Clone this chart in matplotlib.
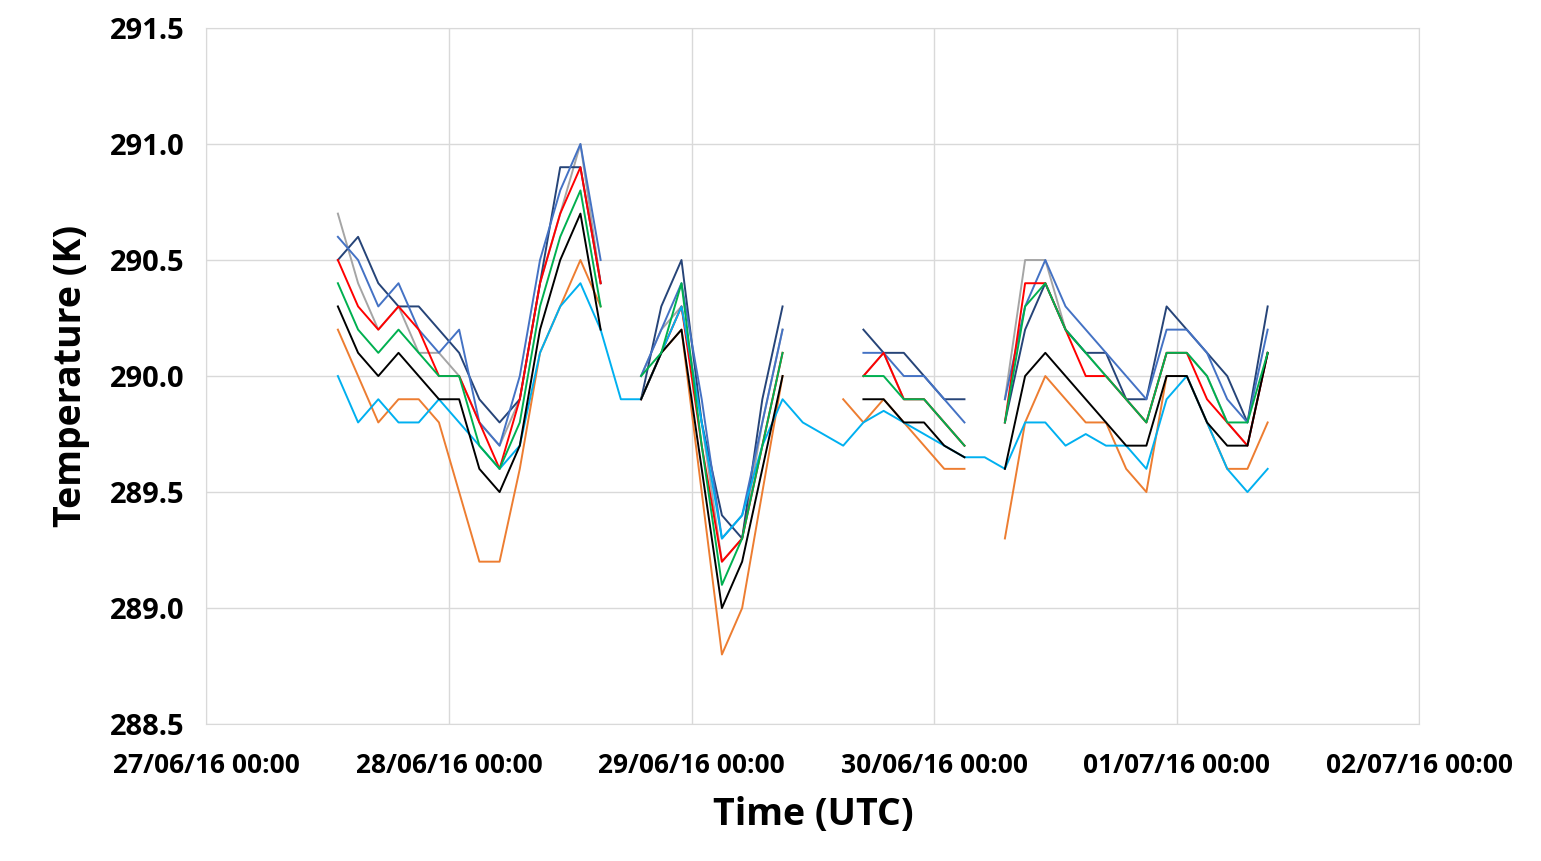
import numpy as np
import matplotlib
matplotlib.use("Agg")
import matplotlib.pyplot as plt
import matplotlib.dates as mdates
from datetime import datetime, timedelta

nan = np.nan
start = datetime(2016, 6, 27)
hours = list(range(13, 106, 2))   # hours since 27/06/16 00:00
times = [start + timedelta(hours=h) for h in hours]

blue = [290.6, 290.5, 290.3, 290.4, 290.2, 290.1, 290.2, 289.8, 289.7, 290.0, 290.5, 290.8, 291.0, 290.5,
        nan, 290.0, 290.2, 290.4, 289.9, 289.3, 289.4, 289.8, 290.2, nan, nan, nan, 290.1, 290.1, 290.0, 290.0,
        289.9, 289.8, nan, 289.9, 290.3, 290.5, 290.3, 290.2, 290.1, 290.0, 289.9, 290.2, 290.2, 290.1, 289.9,
        289.8, 290.2]
navy = [290.5, 290.6, 290.4, 290.3, 290.3, 290.2, 290.1, 289.9, 289.8, 289.9, 290.4, 290.9, 290.9, 290.4,
        nan, 289.9, 290.3, 290.5, 289.8, 289.4, 289.3, 289.9, 290.3, nan, nan, nan, 290.2, 290.1, 290.1, 290.0,
        289.9, 289.9, nan, 289.8, 290.2, 290.4, 290.2, 290.1, 290.1, 289.9, 289.9, 290.3, 290.2, 290.1, 290.0,
        289.8, 290.3]
gray = [290.7, 290.4, 290.2, 290.3, 290.1, 290.1, 290.0, 289.8, 289.7, 289.9, 290.4, 290.7, 291.0, 290.4,
        nan, 290.0, 290.2, 290.3, 289.8, 289.2, 289.3, 289.8, 290.2, nan, nan, nan, 290.0, 290.1, 289.9, 289.9,
        289.8, 289.7, nan, 289.9, 290.5, 290.5, 290.2, 290.1, 290.0, 289.9, 289.8, 290.1, 290.1, 290.0, 289.8,
        289.7, 290.1]
red = [290.5, 290.3, 290.2, 290.3, 290.2, 290.0, 290.0, 289.8, 289.6, 289.9, 290.4, 290.7, 290.9, 290.4,
       nan, 289.9, 290.1, 290.3, 289.7, 289.2, 289.3, 289.7, 290.1, nan, nan, nan, 290.0, 290.1, 289.9, 289.9,
       289.8, 289.7, nan, 289.8, 290.4, 290.4, 290.2, 290.0, 290.0, 289.9, 289.8, 290.1, 290.1, 289.9, 289.8,
       289.7, 290.1]
black = [290.3, 290.1, 290.0, 290.1, 290.0, 289.9, 289.9, 289.6, 289.5, 289.7, 290.2, 290.5, 290.7, 290.2,
         nan, 289.9, 290.1, 290.2, 289.6, 289.0, 289.2, 289.6, 290.0, nan, nan, nan, 289.9, 289.9, 289.8, 289.8,
         289.7, 289.65, nan, 289.6, 290.0, 290.1, 290.0, 289.9, 289.8, 289.7, 289.7, 290.0, 290.0, 289.8, 289.7,
         289.7, 290.1]
green = [290.4, 290.2, 290.1, 290.2, 290.1, 290.0, 290.0, 289.7, 289.6, 289.8, 290.3, 290.6, 290.8, 290.3,
         nan, 290.0, 290.1, 290.4, 289.7, 289.1, 289.3, 289.7, 290.1, nan, nan, nan, 290.0, 290.0, 289.9, 289.9,
         289.8, 289.7, nan, 289.8, 290.3, 290.4, 290.2, 290.1, 290.0, 289.9, 289.8, 290.1, 290.1, 290.0, 289.8,
         289.8, 290.1]
orange = [290.2, 290.0, 289.8, 289.9, 289.9, 289.8, 289.5, 289.2, 289.2, 289.6, 290.1, 290.3, 290.5, 290.3,
          nan, 289.9, 290.1, 290.2, 289.5, 288.8, 289.0, 289.5, 290.0, nan, nan, 289.9, 289.8, 289.9, 289.8, 289.7,
          289.6, 289.6, nan, 289.3, 289.8, 290.0, 289.9, 289.8, 289.8, 289.6, 289.5, 290.0, 290.0, 289.8, 289.6,
          289.6, 289.8]
lightblue = [290.0, 289.8, 289.9, 289.8, 289.8, 289.9, 289.8, 289.7, 289.6, 289.7, 290.1, 290.3, 290.4, 290.2,
             289.9, 289.9, 290.1, 290.3, 289.8, 289.3, 289.4, 289.7, 289.9, 289.8, 289.75, 289.7, 289.8, 289.85,
             289.8, 289.75, 289.7, 289.65, 289.65, 289.6, 289.8, 289.8, 289.7, 289.75, 289.7, 289.7, 289.6, 289.9,
             290.0, 289.8, 289.6, 289.5, 289.6]

series = [(gray, "#A5A5A5"), (navy, "#264478"), (blue, "#4472C4"), (red, "#FF0000"),
          (orange, "#ED7D31"), (lightblue, "#00B0F0"), (black, "black"), (green, "#00B050")]

plt.rcParams['font.family'] = ['Open Sans', 'DejaVu Sans']
fig = plt.figure(figsize=(15.41, 8.61), dpi=100)
ax = fig.add_axes([0.134, 0.159, 0.787, 0.8085])
for vals, c in series:
    ax.plot(times, vals, color=c, lw=1.4)

ax.set_xlim(datetime(2016, 6, 27), datetime(2016, 7, 2))
ax.set_ylim(288.5, 291.5)
ax.set_yticks(np.arange(288.5, 291.51, 0.5))
ax.yaxis.set_major_formatter(matplotlib.ticker.FormatStrFormatter('%.1f'))
ax.xaxis.set_major_locator(mdates.DayLocator())
ax.xaxis.set_major_formatter(mdates.DateFormatter('%d/%m/%y %H:%M'))
ax.grid(color="#d9d9d9", lw=1)
for s in ax.spines.values():
    s.set_color("#d9d9d9")
ax.tick_params(axis="y", length=0, labelsize=21, pad=16)
ax.tick_params(axis="x", length=0, labelsize=19, pad=20)
for lab in ax.get_xticklabels() + ax.get_yticklabels():
    lab.set_fontweight("bold")
ax.set_xlabel("Time (UTC)", fontsize=27, fontweight="bold", labelpad=12)
ax.set_ylabel("Temperature (K)", fontsize=27, fontweight="bold", labelpad=14)
fig.savefig("out.png", dpi=100)
